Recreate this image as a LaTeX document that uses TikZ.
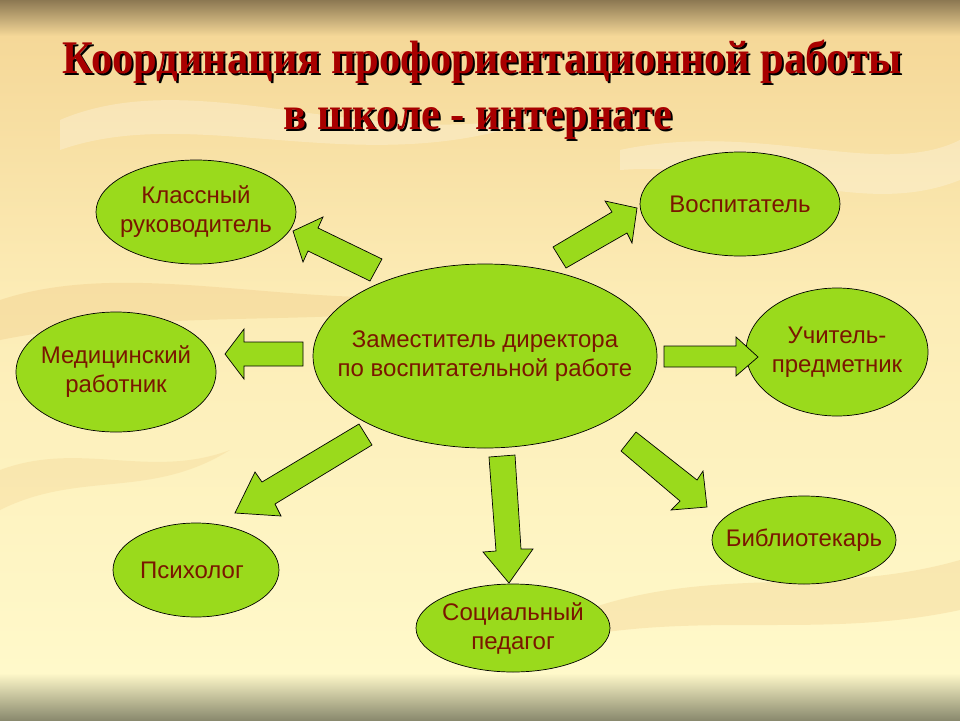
\documentclass[tikz,border=0pt]{standalone}
\usepackage{fontspec}
\setmainfont{Liberation Sans}
\newfontfamily\titlefont{Liberation Serif}
\usetikzlibrary{shapes.geometric}
\definecolor{leaf}{RGB}{154,218,28}
\definecolor{inkred}{RGB}{122,22,0}
\definecolor{titlered}{RGB}{168,0,0}
\definecolor{bgtop}{RGB}{140,120,82}
\definecolor{bgtan}{RGB}{245,216,152}
\definecolor{bgmid}{RGB}{252,236,182}
\definecolor{bglight}{RGB}{255,249,202}
\definecolor{bgfoot}{RGB}{138,138,110}
\definecolor{swirl}{RGB}{240,200,130}
\begin{document}
\begin{tikzpicture}[x=1pt,y=-1pt,
  role/.style={ellipse, draw=black, line width=0.7pt, fill=leaf, inner sep=0pt},
  roletext/.style={text=inkred, align=center, inner sep=0pt, font=\fontsize{24}{29}\selectfont},
  blockarrow/.style={draw=black, line width=0.7pt, fill=leaf, line join=miter},
  titletext/.style={font=\titlefont\bfseries\fontsize{42.5}{46}\selectfont, inner sep=0pt,
    anchor=base, transform shape, yscale=1.1}]
\useasboundingbox (0,0) rectangle (960,720);
% background
\shade[top color=bgtop, bottom color=bgtan] (0,0) rectangle (960,36);
\shade[top color=bgtan, bottom color=bgmid] (0,36) rectangle (960,300);
\shade[top color=bgmid, bottom color=bglight] (0,300) rectangle (960,673);
\fill[swirl, opacity=0.35] (0,300) .. controls (150,250) and (350,330) .. (520,280) .. controls (420,340) and (200,300) .. (0,340) -- cycle;
\fill[white, opacity=0.25] (60,120) .. controls (200,60) and (380,160) .. (560,110) .. controls (380,190) and (200,100) .. (60,150) -- cycle;
\fill[swirl, opacity=0.3] (560,620) .. controls (700,560) and (820,600) .. (960,560) -- (960,610) .. controls (820,640) and (700,610) .. (560,640) -- cycle;
\fill[white, opacity=0.25] (620,150) .. controls (760,120) and (880,180) .. (960,140) -- (960,180) .. controls (860,220) and (760,160) .. (620,170) -- cycle;
\fill[swirl, opacity=0.25] (0,470) .. controls (80,440) and (150,480) .. (230,450) .. controls (150,500) and (80,470) .. (0,510) -- cycle;
\shade[top color=bglight, bottom color=bgfoot] (0,673) rectangle (960,720);
% title
\node[titletext, text=black] (t1s) at (484,75) {Координация профориентационной работы};
\node[titletext, text=titlered] (t1) at (482,73) {Координация профориентационной работы};
\node[titletext, text=black] (t2s) at (480,131) {в школе - интернате};
\node[titletext, text=titlered] (t2) at (478,129) {в школе - интернате};
% nodes
\node[role, minimum width=344pt, minimum height=184pt,
  label={[roletext]center:{Заместитель директора\\по воспитательной работе}}] (zam) at (485,356) {};
\node[role, minimum width=200pt, minimum height=104pt,
  label={[roletext]center:{Классный\\руководитель}}] (klass) at (196,212) {};
\node[role, minimum width=200pt, minimum height=120pt,
  label={[roletext]center:{Медицинский\\работник}}] (med) at (116,372) {};
\node[role, minimum width=200pt, minimum height=104pt,
  label={[roletext]center:{Воспитатель}}] (vosp) at (740,204) {};
\node[role, minimum width=182pt, minimum height=128pt,
  label={[roletext]center:{Учитель-\\предметник}}] (uchit) at (837,352) {};
\node[role, minimum width=184pt, minimum height=88pt,
  label={[roletext]center:{Библиотекарь}}] (bibl) at (804,540) {};
\node[role, minimum width=166pt, minimum height=94pt,
  label={[roletext, xshift=-4pt]center:{Психолог}}] (psych) at (196,570) {};
\node[role, minimum width=194pt, minimum height=88pt,
  label={[roletext]center:{Социальный\\педагог}}] (soc) at (513,628) {};
% block arrows
\draw[blockarrow] (382,259) -- (318,228) -- (323,217) -- (293,231) -- (303,262) -- (308,251) -- (370,281) -- cycle;
\draw[blockarrow] (553,247) -- (612,212) -- (605,201) -- (637,208) -- (632,243) -- (627,233) -- (566,268) -- cycle;
\draw[blockarrow] (303,342) -- (244,342) -- (244,329) -- (225,354) -- (244,379) -- (244,366) -- (303,366) -- cycle;
\draw[blockarrow] (664,346) -- (736,346) -- (736,337) -- (758,357) -- (736,376) -- (736,367) -- (664,367) -- cycle;
\draw[blockarrow] (359,424) -- (262,482) -- (255,472) -- (235,513) -- (281,516) -- (275,504) -- (372,445) -- cycle;
\draw[blockarrow] (489,457) -- (496,551) -- (483,552) -- (509,583) -- (533,549) -- (521,549) -- (515,455) -- cycle;
\draw[blockarrow] (621,451) -- (680,501) -- (671,510) -- (707,507) -- (703,471) -- (697,480) -- (636,432) -- cycle;
\end{tikzpicture}
\end{document}
